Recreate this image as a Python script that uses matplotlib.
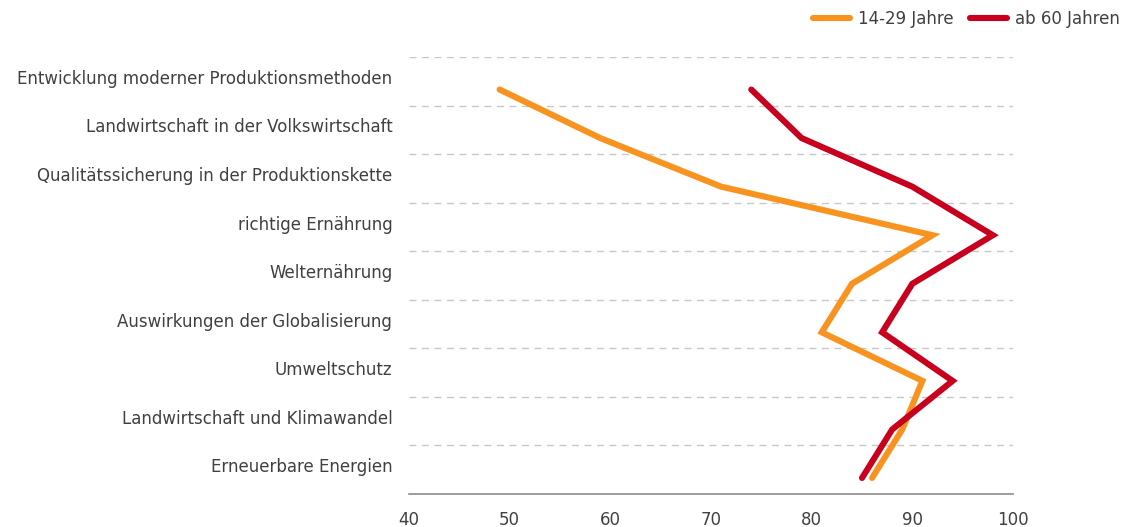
import numpy as np
import matplotlib
matplotlib.use("Agg")
import matplotlib.pyplot as plt

# ---- Data ----
categories = [
    "Entwicklung moderner Produktionsmethoden",
    "Landwirtschaft in der Volkswirtschaft",
    "Qualitätssicherung in der Produktionskette",
    "richtige Ernährung",
    "Welternährung",
    "Auswirkungen der Globalisierung",
    "Umweltschutz",
    "Landwirtschaft und Klimawandel",
    "Erneuerbare Energien",
]
young = [49, 59, 71, 92, 84, 81, 91, 89, 86]
old = [74, 79, 90, 98, 90, 87, 94, 88, 85]
series_names = ["14-29 Jahre", "ab 60 Jahren"]
x_ticks = [40, 50, 60, 70, 80, 90, 100]

# ---- Style ----
ORANGE = "#F7931E"
RED = "#C8001E"
TEXT = "#404040"
FS = 12

plt.rcParams["font.family"] = ["DejaVu Sans"]

fig = plt.figure(figsize=(11.26, 5.27), dpi=100)
ax = fig.add_axes([409 / 1126, 1 - 494 / 527, 604 / 1126, 437 / 527])

n = len(categories)
idx = np.arange(n)

# points sit lower in each band than the labels
for vals, col, name in [(young, ORANGE, series_names[0]), (old, RED, series_names[1])]:
    ax.plot(vals, idx + 0.67, color=col, lw=4.4, label=name,
            solid_capstyle="round", solid_joinstyle="miter")

for k in range(n):
    ax.axhline(k, color="#c8c8c8", lw=1, ls=(0, (5, 4)), zorder=0)

ax.set_xlim(40, 100)
ax.set_ylim(n, 0)
ax.set_xticks(x_ticks)
ax.set_xticklabels([str(t) for t in x_ticks])
ax.set_yticks(idx + 0.41)
ax.set_yticklabels(categories)
ax.tick_params(axis="both", length=0, labelsize=FS, labelcolor=TEXT)
ax.tick_params(axis="x", pad=12)
ax.tick_params(axis="y", pad=12)

for side in ["top", "right", "left"]:
    ax.spines[side].set_visible(False)
ax.spines["bottom"].set_color("#8c8c8c")
ax.spines["bottom"].set_linewidth(1.2)

leg = fig.legend(loc="upper right", bbox_to_anchor=(1.008, 1.01), ncol=2, frameon=False,
                 fontsize=FS, handlelength=2.2, columnspacing=1.0, handletextpad=0.5)
for t in leg.get_texts():
    t.set_color(TEXT)

fig.savefig("out.png", dpi=100)
